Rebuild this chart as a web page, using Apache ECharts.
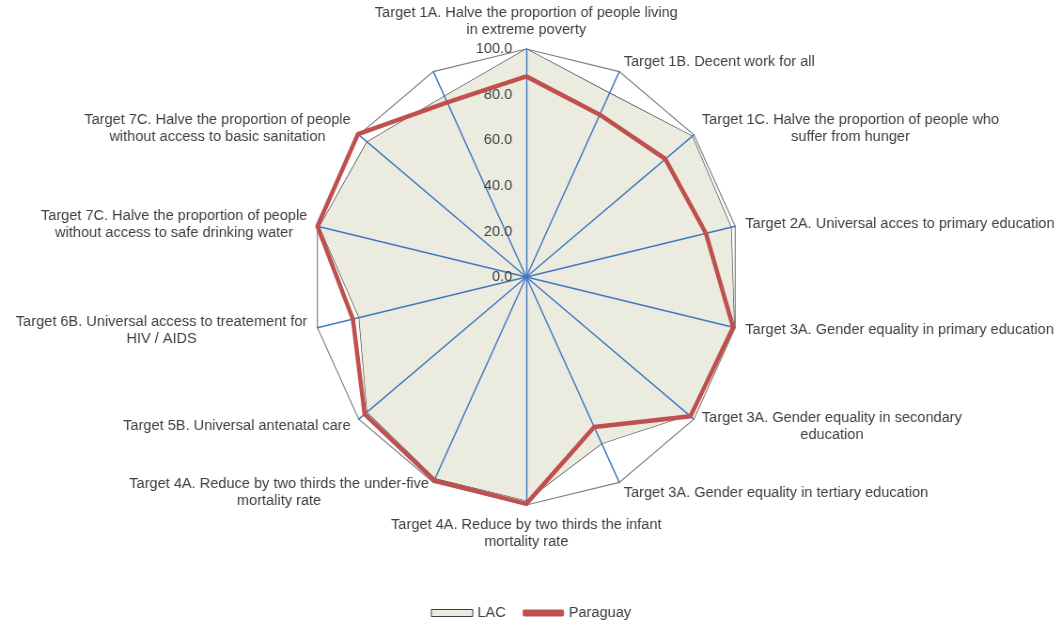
<!DOCTYPE html>
<html>
<head>
<meta charset="utf-8">
<script src="https://cdn.jsdelivr.net/npm/echarts@6/dist/echarts.min.js"></script>
<style>
  html, body { margin: 0; padding: 0; background: #fff; overflow: hidden; }
  /* the source plot is slightly narrower than tall, so squeeze a round radar */
  #chart { width: 1130px; height: 622px; transform: scaleX(0.9398); transform-origin: 0 0; }
</style>
</head>
<body>
<div id="chart"></div>
<script>
// spokes clockwise from the top, the last one has no label in the source
const targets = [
  'Target 1A. Halve the proportion of people living\nin extreme poverty',
  'Target 1B. Decent work for all',
  'Target 1C. Halve the proportion of people who\nsuffer from hunger',
  'Target 2A. Universal acces to primary education',
  'Target 3A. Gender equality in primary education',
  'Target 3A. Gender equality in secondary\neducation',
  'Target 3A. Gender equality in tertiary education',
  'Target 4A. Reduce by two thirds the infant\nmortality rate',
  'Target 4A. Reduce by two thirds the under-five\nmortality rate',
  'Target 5B. Universal antenatal care',
  'Target 6B. Universal access to treatement for\nHIV / AIDS',
  'Target 7C. Halve the proportion of people\nwithout access to safe drinking water',
  'Target 7C. Halve the proportion of people\nwithout access to basic sanitation',
  ''
];
const lacValues = [100, 89.5, 99, 98, 99.5, 97, 81, 98, 98, 95, 80, 99, 95, 88];
const paraguayValues = [88, 79, 83, 86, 99, 98, 73, 99.5, 99, 96.5, 83, 100, 100.5, 85];
const radialTicks = [0, 20, 40, 60, 80, 100];

const textColor = '#404040';
const font = 'Liberation Sans, Arial, sans-serif';
const fontSize = 15.5;

// echarts lays spokes out counter-clockwise, so keep the first and reverse the rest
const order = [0];
for (let i = targets.length - 1; i > 0; i--) order.push(i);

const tickMin = radialTicks[0];
const tickMax = radialTicks[radialTicks.length - 1];

const indicator = order.map((i, k) => {
  const ind = { name: targets[i], min: tickMin, max: tickMax };
  if (k === 0) {
    ind.axisLabel = {
      show: true,
      showMinLabel: true,
      showMaxLabel: true,
      margin: 15,
      color: textColor,
      fontSize: fontSize,
      fontFamily: font,
      formatter: v => v.toFixed(1)
    };
  }
  return ind;
});
const outerIndicator = order.map(() => ({ name: '', min: tickMin, max: tickMax }));

const chart = echarts.init(document.getElementById('chart'), null, { width: 1130, height: 622 });

chart.setOption({
  backgroundColor: '#fff',
  animation: false,
  legend: {
    left: 'center',
    top: 600,
    itemWidth: 44,
    itemHeight: 7,
    itemGap: 18,
    textStyle: { color: textColor, fontSize: fontSize, fontFamily: font },
    data: [
      { name: 'LAC', icon: 'rect', itemStyle: { color: '#ECEBE0', borderColor: '#404040', borderWidth: 1 } },
      { name: 'Paraguay', icon: 'roundRect', itemStyle: { color: '#C0504D', borderWidth: 0 } }
    ]
  },
  radar: [{
    center: [560, 277],
    radius: 228,
    startAngle: 90,
    splitNumber: radialTicks.length - 1,
    shape: 'polygon',
    z: 2,
    indicator: indicator,
    nameGap: 11,
    axisName: {
      color: textColor,
      fontSize: fontSize,
      fontFamily: font,
      lineHeight: 17,
      formatter: name => name ? name.split('\n').map(l => '{c|' + l + '}').join('\n') : '',
      rich: {
        c: { align: 'center', color: textColor, fontSize: fontSize, fontFamily: font, lineHeight: 17 }
      }
    },
    axisLine: { lineStyle: { color: '#3F78C0', width: 1.4 } },
    axisTick: { show: false },
    axisLabel: { show: false },
    splitLine: { show: false },
    splitArea: { show: false }
  }, {
    // only the outer ring is drawn in the source
    center: [560, 277],
    radius: 228,
    startAngle: 90,
    splitNumber: 1,
    shape: 'polygon',
    z: 0,
    indicator: outerIndicator,
    axisName: { show: false },
    axisLine: { show: false },
    axisTick: { show: false },
    axisLabel: { show: false },
    splitLine: { lineStyle: { color: '#808080', width: 1.2 } },
    splitArea: { show: false }
  }],
  series: [{
    name: 'LAC',
    type: 'radar',
    radarIndex: 0,
    z: 1,
    symbol: 'none',
    lineStyle: { color: '#404040', width: 1.3 },
    itemStyle: { color: '#ECEBE0' },
    areaStyle: { color: '#ECEBE0', opacity: 1 },
    data: [{ name: 'LAC', value: order.map(i => lacValues[i]) }]
  }, {
    name: 'Paraguay',
    type: 'radar',
    radarIndex: 0,
    z: 3,
    symbol: 'none',
    lineStyle: { color: '#C0504D', width: 4.5 },
    itemStyle: { color: '#C0504D' },
    data: [{ name: 'Paraguay', value: order.map(i => paraguayValues[i]) }]
  }]
});
</script>
</body>
</html>
